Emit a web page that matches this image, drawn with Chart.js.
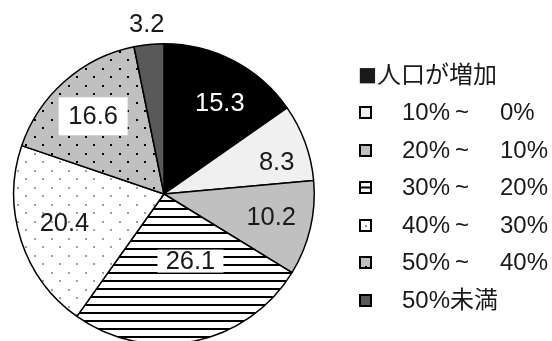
<!DOCTYPE html>
<html>
<head>
<meta charset="utf-8">
<script src="https://cdn.jsdelivr.net/npm/chart.js@4"></script>
<style>
  html, body { margin: 0; padding: 0; background: #fff; overflow: hidden; }
  #wrap { width: 552px; height: 341px; overflow: hidden; }
  canvas { display: block; }
</style>
</head>
<body>
<div id="wrap"><canvas id="chart" width="552" height="348"></canvas></div>
<script>
// 人口の増減率別の割合 (%)
const labels = ["人口が増加", "10%～ 0%", "20%～ 10%", "30%～ 20%", "40%～ 30%", "50%～ 40%", "50%未満"];
const values = [15.3, 8.3, 10.2, 26.1, 20.4, 16.6, 3.2];

const FONT = '24px "Liberation Sans", "Noto Sans CJK JP", sans-serif';
const VALUE_FONT = '25.5px "Liberation Sans", sans-serif';
const INK = "#1a1a1a";

// small tiles used as fills
function tile(w, h, paint) {
  const c = document.createElement("canvas");
  c.width = w; c.height = h;
  paint(c.getContext("2d"));
  return c;
}
const ctx = document.getElementById("chart").getContext("2d");

const stripes = ctx.createPattern(tile(8, 8, (g) => {
  g.fillStyle = "#fff"; g.fillRect(0, 0, 8, 8);
  g.fillStyle = "#000"; g.fillRect(0, 0, 8, 2);
}), "repeat");

const greyDots = ctx.createPattern(tile(17, 17, (g) => {
  g.fillStyle = "#fff"; g.fillRect(0, 0, 17, 17);
  g.fillStyle = "#a0a0a0";
  g.fillRect(0, 0, 2, 2); g.fillRect(8, 8, 2, 2);
}), "repeat");

const blackDots = ctx.createPattern(tile(17, 17, (g) => {
  g.fillStyle = "#c0c0c0"; g.fillRect(0, 0, 17, 17);
  g.fillStyle = "#000";
  g.fillRect(0, 0, 2, 2); g.fillRect(8, 8, 2, 2);
}), "repeat");

const fills = ["#000000", "#f0f0f0", "#c0c0c0", stripes, greyDots, blackDots, "#595959"];

// where each value label sits: fraction of radius, angle nudge (deg), boxed?, colour
const labelPlace = [
  { r: 0.71, da: 4, color: "#fff" },
  { r: 0.78, da: 4 },
  { r: 0.73, da: -1 },
  { r: 0.48, da: -10, box: [66, 23] },
  { r: 0.69, da: 1.6 },
  { r: 0.70, da: -1, box: [69, 38] },
  { r: 1.14, da: 0 },
];

const valueLabels = {
  id: "valueLabels",
  afterDatasetsDraw(chart) {
    const c = chart.ctx;
    const arcs = chart.getDatasetMeta(0).data;
    c.save();
    c.font = VALUE_FONT;
    c.textAlign = "center";
    c.textBaseline = "middle";
    arcs.forEach((arc, i) => {
      const p = arc.getProps(["x", "y", "startAngle", "endAngle", "outerRadius"], true);
      const o = labelPlace[i];
      const a = (p.startAngle + p.endAngle) / 2 + (o.da * Math.PI) / 180;
      const x = p.x + Math.cos(a) * p.outerRadius * o.r;
      const y = p.y + Math.sin(a) * p.outerRadius * o.r;
      if (o.box) {
        c.fillStyle = "#fff";
        c.fillRect(x - o.box[0] / 2, y - o.box[1] / 2, o.box[0], o.box[1]);
      }
      c.fillStyle = o.color || INK;
      c.fillText(values[i].toFixed(1), x, y + 1);
    });
    c.restore();
  },
};

// legend on the right, drawn by hand
const sideLegend = {
  id: "sideLegend",
  afterDraw(chart) {
    const c = chart.ctx;
    c.save();
    c.font = FONT;
    c.textBaseline = "middle";
    c.fillStyle = INK;
    labels.forEach((lab, i) => {
      const y = 75 + i * 37.5;
      if (i === 0) {
        c.font = '20px "DejaVu Sans"';
        c.fillText("■", 358, y + 1);
        c.font = FONT;
        c.fillText(lab, 377, y + 1);
        return;
      }
      // icon: 13px square with thick black rim
      const x0 = 359, y0 = Math.round(y - 6.5), s = 13;
      c.fillStyle = typeof fills[i] === "string" ? fills[i] : (i === 5 ? "#c0c0c0" : "#fff");
      c.fillRect(x0, y0, s, s);
      c.fillStyle = "#000";
      if (i === 3) c.fillRect(x0, y0 + 5.5, s, 2);
      if (i === 4) { c.fillStyle = "#909090"; c.fillRect(x0 + 6, y0 + 6, 2, 2); }
      if (i === 5) c.fillRect(x0 + 6, y0 + 10, 2, 2);
      c.strokeStyle = "#000";
      c.lineWidth = 2;
      c.strokeRect(x0 + 1, y0 + 1, s - 2, s - 2);
      c.fillStyle = INK;
      const parts = lab.split("～");
      if (parts.length === 2) {
        c.fillText(parts[0], 402, y + 1);
        // narrow wave mark between the two bounds
        c.font = '24px "Liberation Sans"';
        c.fillText("~", 455, y + 1);
        c.font = FONT;
        c.fillText(parts[1].trim(), 500, y + 1);
      } else {
        c.fillText(lab, 402, y + 1);
      }
    });
    c.restore();
  },
};

new Chart(ctx, {
  type: "pie",
  data: {
    labels,
    datasets: [{
      data: values,
      backgroundColor: fills,
      borderColor: "#000",
      borderWidth: 1.5,
    }],
  },
  options: {
    responsive: false,
    animation: false,
    layout: { padding: { left: 13, top: 43, right: 237, bottom: 3 } },
    plugins: {
      legend: { display: false },
      tooltip: { enabled: false },
    },
  },
  plugins: [valueLabels, sideLegend],
});
</script>
</body>
</html>
